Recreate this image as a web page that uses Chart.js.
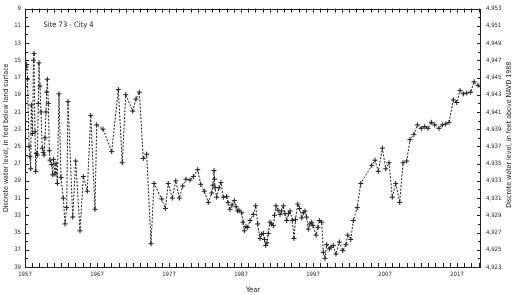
<!DOCTYPE html>
<html>
<head>
<meta charset="utf-8">
<script src="https://cdn.jsdelivr.net/npm/chart.js@4.4.1/dist/chart.umd.min.js"></script>
<style>
  html, body { margin: 0; padding: 0; background: #fff; }
  #wrap { position: relative; width: 514px; height: 295px; }
</style>
</head>
<body>
<div id="wrap"><canvas id="chart" width="514" height="295"></canvas></div>
<script>
// measurement dates (decimal years) and depth to water, feet below land surface
const years = [
  1957.14, 1957.24, 1957.35, 1957.56, 1957.69, 1957.79, 1957.88, 1958.04, 1958.18, 1958.25,
  1958.39, 1958.49, 1958.57, 1958.71, 1958.85, 1958.94, 1959.08, 1959.22, 1959.40, 1959.54,
  1959.64, 1959.78, 1959.92, 1960.01, 1960.10, 1960.24, 1960.38, 1960.47, 1960.71, 1960.85,
  1960.96, 1961.17, 1961.31, 1961.49, 1961.72, 1962.00, 1962.32, 1962.56, 1962.79, 1962.97,
  1963.63, 1964.04, 1964.64, 1965.10, 1965.65, 1966.13, 1966.72, 1966.96, 1967.83,
  1969.04, 1969.96, 1970.51, 1970.99, 1971.96, 1972.42, 1972.88, 1973.43, 1973.90, 1974.50,
  1974.92, 1975.99, 1976.49, 1976.90, 1977.46, 1977.93, 1978.43, 1978.90, 1979.36, 1979.92,
  1980.38, 1980.99, 1981.40, 1981.90, 1982.46, 1982.93, 1983.11, 1983.25, 1983.32, 1983.39,
  1983.63, 1983.94, 1984.22, 1984.54, 1985.01, 1985.19, 1985.47, 1985.75, 1986.07, 1986.31,
  1986.54, 1986.72, 1987.10, 1987.28, 1987.46, 1987.69, 1987.93, 1988.25, 1988.71, 1989.04,
  1989.32, 1989.64, 1989.85, 1990.10, 1990.26, 1990.43, 1990.61, 1990.79, 1991.03, 1991.24,
  1991.49, 1991.65, 1991.86, 1992.14, 1992.42, 1992.63, 1992.88, 1993.11, 1993.35, 1993.60,
  1993.81, 1994.13, 1994.36, 1994.57, 1994.88, 1995.13, 1995.43, 1995.65, 1995.89, 1996.10,
  1996.35, 1996.58, 1996.82, 1997.00, 1997.42, 1997.69, 1997.88, 1998.21, 1998.43, 1998.67,
  1998.90, 1999.26, 1999.50, 1999.82, 2000.19, 2000.65, 2001.13, 2001.58, 2001.82, 2002.24,
  2002.60, 2003.15, 2003.63, 2005.15, 2005.61, 2006.07, 2006.63, 2007.10, 2007.56, 2008.01,
  2008.49, 2009.04, 2009.50, 2010.01, 2010.47, 2011.01, 2011.49, 2012.04, 2012.51, 2012.97,
  2013.43, 2013.90, 2014.50, 2014.96, 2015.43, 2015.89, 2016.49, 2016.96, 2017.42, 2017.88,
  2018.35, 2018.90, 2019.36, 2019.92
];
const depths = [
  15.8, 15.5, 17.2, 25.0, 26.2, 27.6, 20.2, 23.5, 15.0, 14.2,
  23.3, 27.9, 25.8, 26.0, 20.0, 15.3, 18.0, 21.0, 25.2, 25.7,
  26.0, 24.0, 21.0, 18.7, 17.2, 20.0, 25.5, 26.6, 27.1, 28.3,
  26.5, 28.2, 27.0, 29.3, 18.9, 28.6, 31.0, 34.0, 32.1, 19.8,
  33.2, 26.7, 34.8, 28.5, 30.2, 21.4, 32.3, 22.5, 23.0,
  25.6, 18.4, 26.9, 19.0, 20.9, 19.5, 18.7, 26.4, 25.9, 36.3,
  29.3, 31.1, 32.2, 29.3, 31.0, 29.0, 31.0, 29.6, 28.8, 28.9,
  28.5, 27.7, 29.4, 30.2, 31.5, 30.4, 29.5, 27.8, 28.8, 29.8,
  30.9, 29.8, 29.2, 30.9, 30.8, 31.5, 32.3, 31.8, 31.3, 32.0,
  32.5, 32.4, 32.7, 33.8, 34.8, 34.3, 34.4, 33.6, 32.9, 31.9,
  34.0, 35.7, 35.2, 35.1, 35.8, 36.5, 36.2, 35.1, 33.8, 34.0,
  34.2, 33.0, 31.9, 32.4, 32.9, 32.5, 31.9, 32.8, 33.6, 32.8,
  32.5, 33.6, 35.7, 33.5, 31.7, 32.2, 33.3, 32.7, 32.5, 33.2,
  34.6, 34.0, 33.8, 34.2, 35.3, 34.4, 33.6, 33.8, 37.3, 38.0,
  36.4, 36.9, 36.7, 36.5, 37.5, 36.1, 37.1, 36.4, 35.3, 35.8,
  33.6, 32.1, 29.3, 27.2, 26.6, 27.9, 25.2, 27.6, 26.9, 30.9,
  29.3, 31.5, 26.9, 26.7, 24.2, 23.6, 22.5, 22.9, 22.7, 22.9,
  22.2, 22.5, 22.9, 22.5, 22.4, 22.2, 19.6, 19.9, 18.5, 18.9,
  18.8, 18.7, 17.5, 17.9
];

const yearTicks = [1957, 1967, 1977, 1987, 1997, 2007, 2017];
const depthTicks = [9, 11, 13, 15, 17, 19, 21, 23, 25, 27, 29, 31, 33, 35, 37, 39];
const elevTicks = [4923, 4925, 4927, 4929, 4931, 4933, 4935, 4937, 4939, 4941, 4943, 4945, 4947, 4949, 4951, 4953];

const INK = "#231f20";
const FONT = "'Liberation Sans Narrow', 'DejaVu Sans Condensed', 'Roboto', sans-serif";
const RIGHT_TITLE = "Discrete water level, in feet above NAVD 1988";

// inward tick marks, frame, right-hand title and the site label
const framePlugin = {
  id: "framePlugin",
  afterDraw(chart) {
    const { ctx, chartArea: a, scales } = chart;
    ctx.save();
    ctx.strokeStyle = INK;
    ctx.lineWidth = 1;
    ctx.beginPath();
    for (let yr = Math.ceil(scales.x.min); yr <= scales.x.max; yr++) {
      const px = Math.round(scales.x.getPixelForValue(yr)) + 0.5;
      ctx.moveTo(px, a.bottom);
      ctx.lineTo(px, a.bottom - 4);
      ctx.moveTo(px, a.top);
      ctx.lineTo(px, a.top + 4);
    }
    for (let d = scales.y.min; d <= scales.y.max; d++) {
      const py = Math.round(scales.y.getPixelForValue(d)) + 0.5;
      const len = depthTicks.includes(d) ? 4 : 3;
      ctx.moveTo(a.left, py);
      ctx.lineTo(a.left + len, py);
    }
    for (let e = scales.y2.min; e <= scales.y2.max; e++) {
      const py = Math.round(scales.y2.getPixelForValue(e)) + 0.5;
      const len = elevTicks.includes(e) ? 4 : 3;
      ctx.moveTo(a.right, py);
      ctx.lineTo(a.right - len, py);
    }
    ctx.stroke();
    ctx.strokeRect(Math.round(a.left) + 0.5, Math.round(a.top) + 0.5,
      Math.round(a.right - a.left) - 1, Math.round(a.bottom - a.top));

    ctx.fillStyle = INK;
    ctx.textBaseline = "middle";

    // right title reads bottom-to-top, like the left one
    ctx.save();
    ctx.font = "7px " + FONT;
    ctx.textAlign = "center";
    ctx.translate(509, (a.top + a.bottom) / 2 - 3);
    ctx.rotate(-Math.PI / 2);
    ctx.fillText(RIGHT_TITLE, 0, 0);
    ctx.restore();

    ctx.font = "7.5px " + FONT;
    ctx.textAlign = "left";
    ctx.fillText("Site 73 - City 4", a.left + 18.5, a.top + 16);
    ctx.restore();
  }
};

const ctx = document.getElementById("chart").getContext("2d");
new Chart(ctx, {
  type: "scatter",
  data: {
    datasets: [{
      label: "Discrete water level",
      data: years.map((t, i) => ({ x: t, y: depths[i] })),
      yAxisID: "y",
      showLine: true,
      borderColor: INK,
      borderWidth: 1,
      borderDash: [2, 1.5],
      pointStyle: "cross",
      pointRadius: 2.5,
      pointBorderWidth: 1,
      pointBorderColor: INK,
      pointBackgroundColor: INK,
      tension: 0
    }]
  },
  options: {
    responsive: false,
    animation: false,
    devicePixelRatio: 1,
    layout: { padding: { top: 5, left: 0, right: 0, bottom: 0 } },
    plugins: { legend: { display: false }, tooltip: { enabled: false } },
    scales: {
      x: {
        type: "linear",
        position: "bottom",
        min: 1957,
        max: 2020.33,
        afterBuildTicks: s => { s.ticks = yearTicks.map(v => ({ value: v })); },
        afterFit: s => { s.height = 28; },
        grid: { display: false, drawTicks: false },
        border: { display: false },
        ticks: {
          color: INK, padding: 4, maxRotation: 0, autoSkip: false,
          font: { family: FONT, size: 6 },
          callback: v => String(v)
        },
        title: {
          display: true, text: "Year", color: INK,
          font: { family: FONT, size: 7.5 },
          padding: { top: 0, bottom: 0 }
        }
      },
      y: {
        type: "linear",
        position: "left",
        reverse: true,
        min: 9,
        max: 39,
        afterBuildTicks: s => { s.ticks = depthTicks.map(v => ({ value: v })); },
        afterFit: s => { s.width = 25; },
        grid: { display: false, drawTicks: false },
        border: { display: false },
        ticks: { color: INK, padding: 4, font: { family: FONT, size: 6 } },
        title: {
          display: true, text: "Discrete water level, in feet below land surface", color: INK,
          font: { family: FONT, size: 7 },
          padding: { top: 2, bottom: 0 }
        }
      },
      y2: {
        type: "linear",
        position: "right",
        min: 4923,
        max: 4953,
        afterBuildTicks: s => { s.ticks = elevTicks.map(v => ({ value: v })); },
        afterFit: s => { s.width = 33; },
        grid: { display: false, drawTicks: false },
        border: { display: false },
        ticks: {
          color: INK, padding: 5, font: { family: FONT, size: 6 },
          callback: v => v.toLocaleString("en-US")
        },
        title: { display: false }
      }
    }
  },
  plugins: [framePlugin]
});
</script>
</body>
</html>
